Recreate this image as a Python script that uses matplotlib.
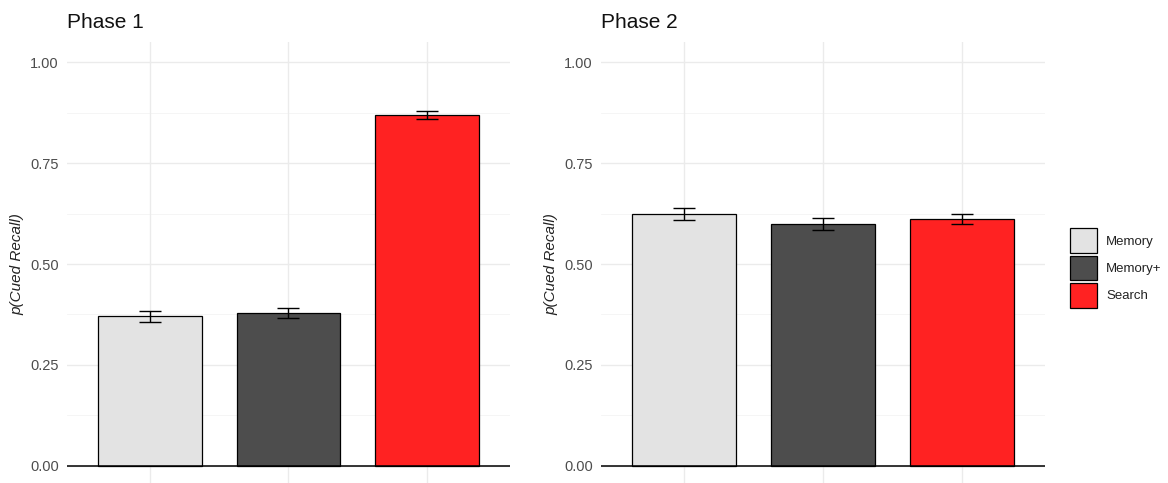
import matplotlib
matplotlib.use("Agg")
import matplotlib.pyplot as plt
from matplotlib.patches import Patch
import numpy as np

plt.rcParams['font.family'] = ['Liberation Sans', 'DejaVu Sans']

conditions = ["Memory", "Memory+", "Search"]
colors = ["#E3E3E3", "#4D4D4D", "#FF2222"]

phase1_mean = [0.370, 0.379, 0.868]
phase1_se = [0.013, 0.013, 0.010]
phase2_mean = [0.624, 0.600, 0.611]
phase2_se = [0.015, 0.015, 0.013]

panel_titles = ["Phase 1", "Phase 2"]
y_ticks = [0.00, 0.25, 0.50, 0.75, 1.00]
y_tick_labels = ["0.00", "0.25", "0.50", "0.75", "1.00"]

W, H = 1168, 483
fig = plt.figure(figsize=(W / 100, H / 100), dpi=100)

def px_axes(left, top, right, bottom):
    return fig.add_axes([left / W, 1 - bottom / H, (right - left) / W, (bottom - top) / H])

axes = [px_axes(67, 42, 510, 486), px_axes(601, 42, 1045, 486)]

x = np.arange(1, len(conditions) + 1)
for ax, title, means, ses in zip(axes, panel_titles,
                                 [phase1_mean, phase2_mean],
                                 [phase1_se, phase2_se]):
    ax.set_xlim(0.4, 3.6)
    ax.set_ylim(-0.05, 1.05)
    for s in ax.spines.values():
        s.set_visible(False)
    # grid
    for yv in y_ticks:
        ax.axhline(yv, color="#EBEBEB", lw=1.0, zorder=0)
    for yv in [0.125, 0.375, 0.625, 0.875]:
        ax.axhline(yv, color="#F4F4F4", lw=0.6, zorder=0)
    for xv in x:
        ax.axvline(xv, color="#EBEBEB", lw=1.0, zorder=0)
    ax.bar(x, means, width=0.75, color=colors, edgecolor="black",
           linewidth=0.9, zorder=2)
    ax.errorbar(x, means, yerr=ses, fmt="none", ecolor="black",
                elinewidth=1.0, capsize=8, capthick=1.0, zorder=3)
    ax.axhline(0, color="black", lw=1.1, zorder=4)
    ax.set_yticks(y_ticks)
    ax.set_yticklabels(y_tick_labels)
    ax.set_xticks([])
    ax.tick_params(axis="y", length=0, pad=6, labelsize=10.5, labelcolor="#4D4D4D")
    ax.set_ylabel("p(Cued Recall)", style="italic", fontsize=11,
                  color="#222222", labelpad=4)
    ax.set_title(title, loc="left", fontsize=15, color="#111111", pad=10, x=0.0)

handles = [Patch(facecolor=c, edgecolor="black", linewidth=0.9) for c in colors]
leg = fig.legend(handles, conditions, loc="center left",
                 bbox_to_anchor=(1070 / W, 1 - 268 / H), frameon=False,
                 fontsize=9.5, handlelength=2.05, handleheight=2.5,
                 handletextpad=0.68, labelspacing=0.2, borderaxespad=0,
                 borderpad=0)
for t in leg.get_texts():
    t.set_color("#222222")

fig.savefig("out.png", dpi=100)
